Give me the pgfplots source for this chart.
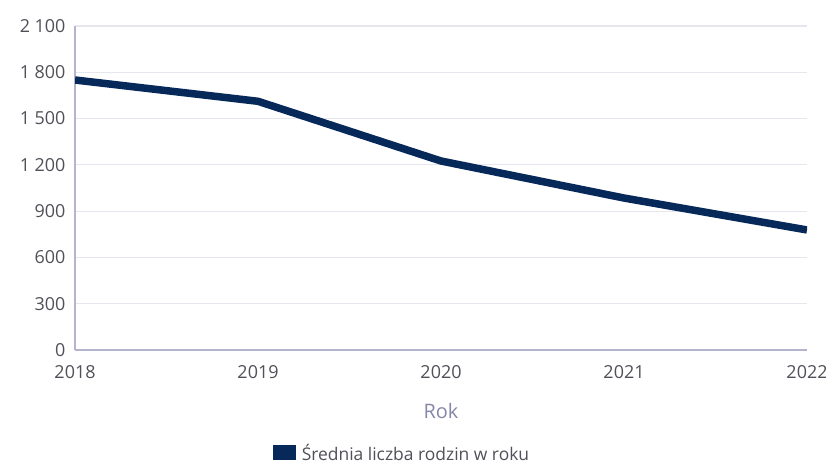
\documentclass[border=0pt]{standalone}
\usepackage{pgfplots}
\pgfplotsset{compat=1.18}
\usepackage{fontspec}
\setmainfont{Open Sans}
\definecolor{navy}{HTML}{06295A}
\definecolor{ticktxt}{HTML}{505058}
\definecolor{labtxt}{HTML}{8686A8}
\definecolor{axln}{HTML}{B4B4CC}
\definecolor{gridln}{HTML}{E6E6EE}
\begin{document}
\begin{tikzpicture}
\useasboundingbox (0,0) rectangle (826bp,464bp);
\begin{axis}[
  at={(75bp,114bp)}, anchor=origin,
  scale only axis,
  width=732bp, height=324bp,
  xmin=2018, xmax=2022,
  ymin=0, ymax=2100,
  xtick={2018,2019,2020,2021,2022},
  ytick={0,300,...,2100},
  axis x line=bottom, axis y line=left,
  axis line style={draw=axln, line width=1.2bp, -},
  ymajorgrids=true,
  grid style={draw=gridln, line width=1.2bp},
  major tick length=0pt,
  font=\fontsize{18}{20}\selectfont,
  tick label style={text=ticktxt},
  /pgf/number format/assume math mode=true,
  /pgf/number format/1000 sep={\ },
  xticklabel style={/pgf/number format/1000 sep=, yshift=-12bp, inner xsep=0pt},
  yticklabel style={xshift=-6bp},
  xlabel={Rok},
  xlabel style={text=labtxt, yshift=-18bp, font=\fontsize{20}{22}\selectfont},
  legend style={at={(0.447,-0.318)}, anchor=center, draw=none, fill=none,
    font=\fontsize{17.5}{19}\selectfont, text=ticktxt,
    /tikz/every even column/.append style={column sep=0pt}},
  legend image code/.code={\fill[navy] (0bp,-3.5bp) rectangle (15bp,4.5bp);
    \path (19bp,0);},
]
\addplot[navy, line width=7.5bp] coordinates {
  (2018,1750) (2019,1612) (2020,1225) (2021,985) (2022,778)
};
\legend{Średnia liczba rodzin w roku}
\end{axis}
\end{tikzpicture}
\end{document}
